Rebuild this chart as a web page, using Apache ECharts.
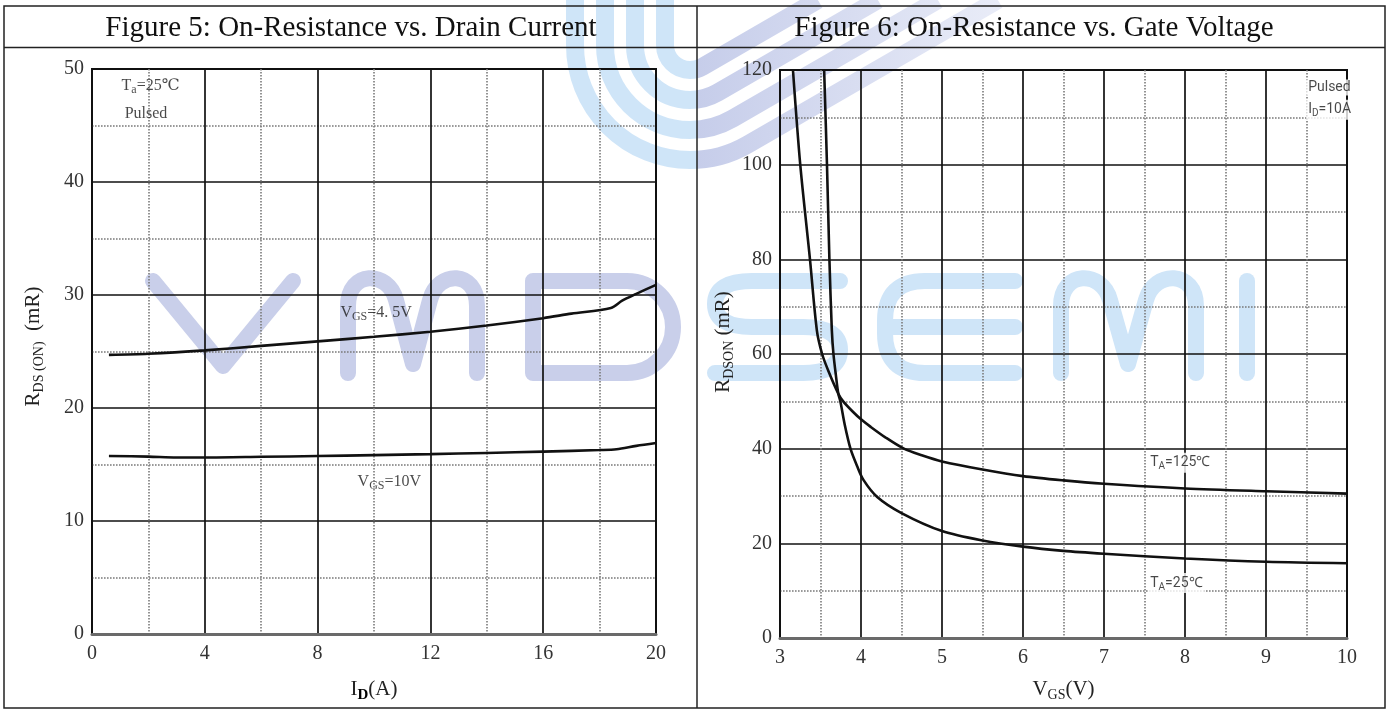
<!DOCTYPE html>
<html><head><meta charset="utf-8">
<script src="https://cdn.jsdelivr.net/npm/echarts@6/dist/echarts.min.js"></script>
<style>html,body{margin:0;padding:0;background:#fff}#c{width:1389px;height:711px}</style>
</head><body><div id="c"></div>
<script>
// ---------- data ----------
const fig5Title = 'Figure 5: On-Resistance vs. Drain Current';
const fig6Title = 'Figure 6: On-Resistance vs. Gate Voltage';

// Figure 5: RDS(on) vs ID
const id45  = [0.6, 2, 4, 6, 8, 10, 12, 14, 16, 17, 18.4, 18.8, 19.3, 20];
const rds45 = [24.7, 24.8, 25.1, 25.5, 25.9, 26.3, 26.75, 27.3, 27.95, 28.35, 28.85, 29.5, 30.1, 30.9];
const id10  = [0.6, 2, 3, 4, 6, 8, 10, 12, 14, 16, 18, 18.6, 19.3, 20];
const rds10 = [15.75, 15.7, 15.62, 15.62, 15.68, 15.75, 15.83, 15.92, 16.02, 16.14, 16.28, 16.35, 16.65, 16.9];
const fig5XTicks = {min: 0, max: 20, step: 4};
const fig5YTicks = {min: 0, max: 50, step: 10};

// Figure 6: RDS(on) vs VGS
const vgs125 = [3.16, 3.25, 3.37, 3.455, 3.52, 3.6, 3.72, 3.78, 3.9, 4.0, 4.12, 4.3, 4.53, 4.75, 5, 5.5, 6, 6.5, 7, 8, 9, 10];
const rds125 = [120, 100, 80, 65, 60, 56.3, 51.6, 50, 47.8, 46.2, 44.6, 42.4, 40, 38.6, 37.3, 35.6, 34.2, 33.3, 32.6, 31.6, 31.0, 30.5];
const vgs25  = [3.545, 3.58, 3.61, 3.64, 3.66, 3.69, 3.72, 3.745, 3.8, 3.87, 3.95, 4.03, 4.2, 4.5, 5, 5.5, 6, 6.5, 7, 8, 9, 10];
const rds25  = [120, 100, 80, 65, 60, 55.5, 51.6, 50, 45, 40, 36.4, 33.4, 29.8, 26.4, 22.6, 20.6, 19.3, 18.4, 17.8, 16.8, 16.1, 15.8];
const fig6XTicks = {min: 3, max: 10, step: 1};
const fig6YTicks = {min: 0, max: 120, step: 20};

// annotations (data coordinates, left edge / vertical middle)
const fig5Notes = [
  [0.96, 48.5, '{n|T}{s|a}{n|=25℃}'],
  [1.07, 46.0, '{n|Pulsed}'],
  [8.72, 28.4, '{n|V}{s|GS}{n|=4. 5V}'],
  [9.33, 13.5, '{n|V}{s|GS}{n|=10V}']
];
const fig6Notes = [
  [9.49, 116.3, '{n|Pulsed}'],
  [9.49, 111.6, '{n|I}{s|D}{n|=10A}'],
  [7.54, 37.0, '{n|T}{s|A}{n|=125℃}'],
  [7.54, 11.6, '{n|T}{s|A}{n|=25℃}']
];

// ---------- chart ----------
const serif = '"Liberation Serif","DejaVu Serif",serif';
const sans = 'Roboto,"Open Sans","Liberation Sans",sans-serif';
const zip = (a, b) => a.map((v, i) => [v, b[i]]);

function xAx(grid, t, name, rich, gap) {
  return {
    gridIndex: grid, type: 'value', min: t.min, max: t.max, interval: t.step,
    axisLine: {show: true, onZero: false, lineStyle: {color: '#6a6a6a', width: 3}},
    axisTick: {show: false},
    axisLabel: {fontFamily: serif, fontSize: 20, color: '#333', margin: 10},
    splitLine: {show: true, lineStyle: {color: '#111', width: 1.7}},
    minorTick: {show: false, splitNumber: 2},
    minorSplitLine: {show: true, lineStyle: {color: '#7a7a7a', width: 1.6, type: [1.6, 1.4]}},
    name: name, nameLocation: 'middle', nameGap: gap,
    nameTextStyle: {rich: rich}
  };
}
function yAx(grid, t, name, rich, gap, pad) {
  return {
    gridIndex: grid, type: 'value', min: t.min, max: t.max, interval: t.step,
    axisLine: {show: false},
    axisTick: {show: false},
    axisLabel: {fontFamily: serif, fontSize: 20, color: '#333', margin: 8},
    splitLine: {show: true, lineStyle: {color: '#111', width: 1.7}},
    minorTick: {show: false, splitNumber: 2},
    minorSplitLine: {show: true, lineStyle: {color: '#7a7a7a', width: 1.6, type: [1.6, 1.4]}},
    name: name, nameLocation: 'middle', nameGap: gap,
    nameTextStyle: {rich: rich, padding: pad}
  };
}
const nameRich = {
  n: {fontFamily: serif, fontSize: 21, color: '#222'},
  s: {fontFamily: serif, fontSize: 14, color: '#222', padding: [12, 0, 0, 0]},
  b: {fontFamily: serif, fontSize: 15, fontWeight: 'bold', color: '#000', padding: [12, 0, 0, 0]}
};

function lineSeries(xi, data, smooth) {
  return {
    type: 'line', xAxisIndex: xi, yAxisIndex: xi, data: data, symbol: 'none',
    smooth: smooth, clip: true,
    lineStyle: {color: '#111', width: 2.6}, z: 5
  };
}
function noteSeries(xi, notes, font, size, bg) {
  return {
    type: 'scatter', xAxisIndex: xi, yAxisIndex: xi, data: notes, symbolSize: 1,
    itemStyle: {color: 'rgba(0,0,0,0)'}, z: 6, silent: true,
    label: {
      show: true, position: 'right', distance: 0,
      formatter: p => p.data[2],
      backgroundColor: bg, padding: [1, 2],
      rich: {
        n: {fontFamily: font, fontSize: size, color: '#1a1a1a'},
        s: {fontFamily: font, fontSize: size - 4, color: '#1a1a1a', padding: [8, 0, 0, 0]}
      }
    }
  };
}

// ---------- watermark (decorative, pixel space) ----------
const lav = '#c9cfea', sky = '#cfe5f8';
const wmPaths = [
  {d: 'M153 281 L223 366 L293 281', c: lav},
  {d: 'M348 373 L348 306 C348 270 388 270 396 300 L413 364 L430 300 C438 270 477 270 477 306 L477 373', c: lav},
  {d: 'M533 281 L627 281 A46 46 0 0 1 627 373 L533 373 Z', c: lav},
  {d: 'M840 281 L752 281 Q715 281 715 304 Q715 327 752 327 L803 327 Q840 327 840 350 Q840 373 803 373 L715 373', c: sky},
  {d: 'M1015 281 L925 281 Q885 281 885 321 L885 333 Q885 373 925 373 L1015 373 M885 327 L1015 327', c: sky},
  {d: 'M1061 373 L1061 306 C1061 270 1102 270 1110 300 L1128 364 L1146 300 C1154 270 1196 270 1196 306 L1196 373', c: sky},
  {d: 'M1247 281 L1247 373', c: sky}
];
// logo: concentric stripes, vertical on the left, arc, then 30deg diagonal
(function () {
  const cx = 690, cy = 45;
  const grad = {type: 'linear', x: 560, y: 0, x2: 1010, y2: 0, global: true, colorStops: [
    {offset: 0, color: sky}, {offset: 0.304, color: sky}, {offset: 0.306, color: '#c6cdea'}, {offset: 1, color: '#eaedf8'}]};
  for (let i = 0; i < 4; i++) {
    const r = 115 - 30 * i;
    const xv = cx - r;
    const tx = cx + r * 0.5, ty = cy + r * 0.866;       // tangent point on diagonal
    const topX = tx + ty / 0.5774;
    wmPaths.push({d: 'M' + xv + ' -10 L' + xv + ' ' + cy + ' A' + r + ' ' + r + ' 0 0 0 ' + tx.toFixed(1) + ' ' + ty.toFixed(1) +
      ' L' + topX.toFixed(1) + ' 0', c: grad, cap: 'butt'});
  }
})();
const watermarkSeries = {
  type: 'custom', coordinateSystem: 'none', data: [0], z: -5, silent: true,
  renderItem: function () {
    return {type: 'group', children: wmPaths.map(p => ({
      type: 'path', shape: {pathData: p.d},
      style: {fill: 'none', stroke: p.c, lineWidth: p.cap ? 18 : 16, lineCap: p.cap || 'round', lineJoin: 'round'}
    }))};
  }
};

const frame = [
  {type: 'rect', z: 20, silent: true, shape: {x: 4, y: 6, width: 1381, height: 702}, style: {fill: null, stroke: '#222', lineWidth: 1.5}},
  {type: 'line', z: 20, silent: true, shape: {x1: 4, y1: 47.5, x2: 1385, y2: 47.5}, style: {stroke: '#222', lineWidth: 1.5}},
  {type: 'line', z: 20, silent: true, shape: {x1: 697, y1: 6, x2: 697, y2: 708}, style: {stroke: '#222', lineWidth: 1.5}},
  {type: 'text', z: 20, silent: true, x: 351, y: 28, style: {text: fig5Title, fontFamily: serif, fontSize: 29, fill: '#111', align: 'center', verticalAlign: 'middle'}},
  {type: 'text', z: 20, silent: true, x: 1034, y: 28, style: {text: fig6Title, fontFamily: serif, fontSize: 29, fill: '#111', align: 'center', verticalAlign: 'middle'}}
];

const chart = echarts.init(document.getElementById('c'));
chart.setOption({
  backgroundColor: '#fff',
  animation: false,
  grid: [
    {left: 92, top: 69, width: 564, height: 565, show: true, borderColor: '#111', borderWidth: 2, backgroundColor: 'rgba(0,0,0,0)'},
    {left: 780, top: 70, width: 567, height: 568, show: true, borderColor: '#111', borderWidth: 2, backgroundColor: 'rgba(0,0,0,0)'}
  ],
  xAxis: [
    xAx(0, fig5XTicks, '{n|I}{b|D}{n|(A)}', nameRich, 42),
    xAx(1, fig6XTicks, '{n|V}{s|GS}{n|(V)}', nameRich, 38)
  ],
  yAxis: [
    yAx(0, fig5YTicks, '{n|R}{s|DS (ON)}{n|  (mR)}', nameRich, 46, [0, 0, 0, 10]),
    yAx(1, fig6YTicks, '{n|R}{s|DSON}{n| (mR)}', nameRich, 44, [0, 0, 0, 24])
  ],
  series: [
    watermarkSeries,
    lineSeries(0, zip(id45, rds45), 0.3),
    lineSeries(0, zip(id10, rds10), 0.3),
    lineSeries(1, zip(vgs125, rds125), 0.3),
    lineSeries(1, zip(vgs25, rds25), 0.3),
    noteSeries(0, fig5Notes, serif, 16, null),
    noteSeries(1, fig6Notes, sans, 14, '#fff')
  ],
  graphic: {elements: frame}
});
</script></body></html>
